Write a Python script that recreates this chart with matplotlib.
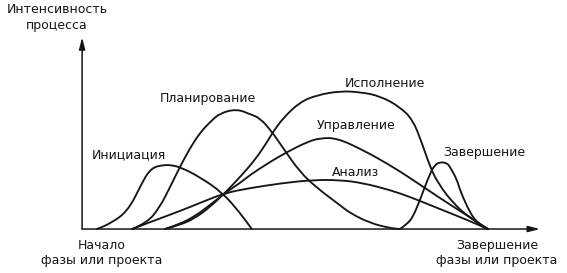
import matplotlib.pyplot as plt
from matplotlib.path import Path
from matplotlib.patches import PathPatch

# time axis: 0 = start of phase, 100 = end of phase; intensity: 100 = peak of execution
init_t = [0, 2.0, 3.8, 5.9, 7.7, 9.2, 10.5, 11.8, 13.0, 14.3, 15.6, 17.4, 18.7,
          21.2, 26.3, 32.2, 36.6, 39.6]
init_i = [0, 2.2, 5.1, 8.8, 13.9, 20.4, 27.7, 35.0, 40.9, 44.5, 46.0, 46.7, 46.7,
          45.3, 38.0, 26.3, 11.7, 0]

plan_t = [9.0, 12.8, 16.1, 18.7, 21.2, 23.8, 26.3, 28.9, 31.5, 35.8, 39.1, 41.7,
          44.8, 47.6, 51.9, 56.3, 62.1, 64.7, 69.8, 74.9, 77.5]
plan_i = [0, 4.4, 16.1, 30.7, 45.3, 59.1, 70.1, 78.1, 84.7, 87.6, 83.9, 81.0,
          70.8, 59.1, 41.6, 29.9, 17.5, 11.7, 4.4, 0.7, 0]

exec_t = [17.4, 21.2, 25.1, 28.9, 32.7, 36.6, 40.4, 43.5, 45.0, 47.6, 51.9, 56.3,
          62.1, 67.3, 72.4, 77.5, 80.8, 83.1, 85.2, 87.2, 91.0, 95.4, 100]
exec_i = [0, 2.9, 8.0, 16.1, 26.3, 38.0, 50.4, 63.5, 70.8, 81.0, 92.7, 97.8,
          100.7, 100, 97.1, 89.1, 79.6, 62.8, 45.3, 33.6, 19.0, 8.0, 0]

ctrl_t = [17.4, 21.2, 25.1, 28.9, 32.7, 36.6, 39.1, 44.2, 48.6, 53.7, 57.0, 61.4,
          68.0, 74.9, 80.1, 87.7, 94.1, 100]
ctrl_i = [0, 3.6, 9.5, 17.5, 26.3, 33.6, 39.4, 48.9, 56.2, 63.5, 66.4, 66.4,
          57.7, 46.7, 37.2, 22.6, 10.9, 0]

anal_t = [9.0, 13.6, 21.2, 26.3, 32.7, 39.1, 47.6, 55.2, 62.1, 68.0, 74.9, 80.1,
          87.7, 94.1, 100]
anal_i = [0, 5.1, 13.1, 19.0, 26.3, 29.9, 33.6, 35.8, 35.8, 33.6, 28.5, 23.4,
          14.6, 7.3, 0]

close_t = [77.5, 79.3, 80.8, 82.6, 85.2, 86.4, 87.7, 89.5, 90.3, 92.1, 92.8, 95.4,
           97.2, 98.7, 100]
close_i = [0, 3.6, 8.8, 21.2, 40.9, 46.7, 48.9, 48.2, 45.3, 35.8, 28.5, 11.7,
           5.1, 1.5, 0]

labels = ["Инициация", "Планирование", "Исполнение", "Управление", "Анализ", "Завершение"]
label_pos = [(8.2, 54.0), (28.4, 95.6), (73.7, 106.6), (66.2, 75.9), (66.2, 41.6), (99.0, 56.2)]

ink = "#161616"


def smooth_curve(ax, t, i):
    # quadratic bezier: read points act as control points, joined at midpoints
    pts = list(zip(t, i))
    verts = [pts[0]]
    codes = [Path.MOVETO]
    for k in range(1, len(pts) - 1):
        mid = ((pts[k][0] + pts[k + 1][0]) / 2, (pts[k][1] + pts[k + 1][1]) / 2)
        verts += [pts[k], mid]
        codes += [Path.CURVE3, Path.CURVE3]
    verts.append(pts[-1])
    codes.append(Path.LINETO)
    ax.add_patch(PathPatch(Path(verts, codes), facecolor="none", edgecolor=ink,
                           lw=1.35, capstyle="round", joinstyle="round"))


fig = plt.figure(figsize=(5.67, 2.73), dpi=100)
ax = fig.add_axes([0, 0, 1, 1])
ax.set_xlim(-24.8, 120.2)
ax.set_ylim(-32.1, 167.2)
ax.axis("off")

for t, i in [(init_t, init_i), (plan_t, plan_i), (exec_t, exec_i),
             (ctrl_t, ctrl_i), (anal_t, anal_i), (close_t, close_i)]:
    smooth_curve(ax, t, i)

# axes with arrows
arrow = dict(arrowstyle="-|>,head_length=0.7,head_width=0.18", color=ink, lw=1.1,
             shrinkA=0, shrinkB=0)
ax.annotate("", xy=(113.3, 0), xytext=(-3.8, 0), arrowprops=arrow)
ax.annotate("", xy=(-3.8, 140), xytext=(-3.8, 0), arrowprops=arrow)

font = dict(family="DejaVu Sans", fontsize=9, color=ink)
for text, (x, y) in zip(labels, label_pos):
    ax.text(x, y, text, ha="center", va="center", **font)

ax.text(-10.2, 154.4, "Интенсивность\nпроцесса", ha="center", va="center",
        linespacing=1.25, **font)
ax.text(1.3, -17.5, "Начало\nфазы или проекта", ha="center", va="center",
        linespacing=1.2, **font)
ax.text(102.3, -17.5, "Завершение\nфазы или проекта", ha="center", va="center",
        linespacing=1.2, **font)

fig.savefig("out.png", dpi=100, facecolor="white")
